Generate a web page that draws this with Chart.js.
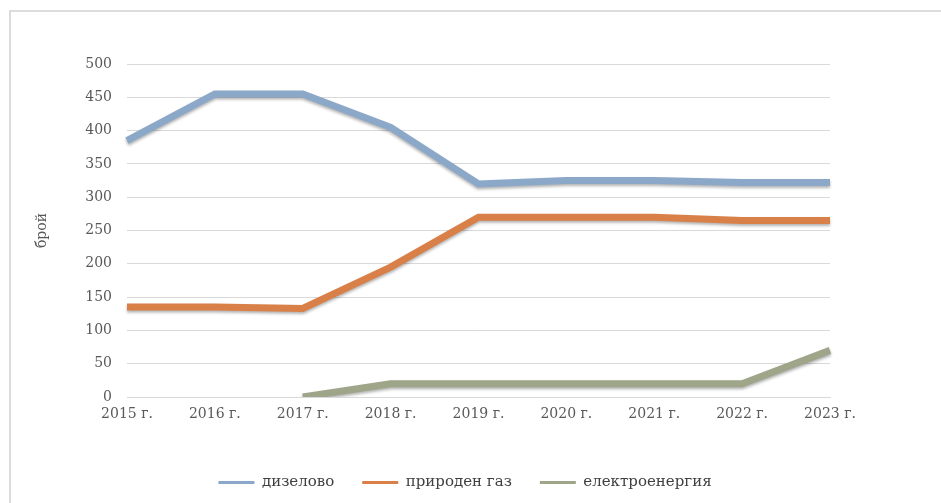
<!DOCTYPE html>
<html>
<head>
<meta charset="utf-8">
<script src="https://cdn.jsdelivr.net/npm/chart.js@4/dist/chart.umd.min.js"></script>
<style>
  html, body { margin: 0; padding: 0; background: #fff; overflow: hidden; }
  #wrap { position: relative; width: 941px; height: 503px; }
  #frame {
    position: absolute; left: 9px; top: 10px; width: 1000px; height: 491px;
    border: 2px solid #dcdcdc;
  }
  #myChart { position: absolute; left: 0; top: 0; }
</style>
</head>
<body>
<div id="wrap">
  <div id="frame"></div>
  <canvas id="myChart" width="941" height="503"></canvas>
</div>
<script>
const years = ["2015 г.", "2016 г.", "2017 г.", "2018 г.", "2019 г.", "2020 г.", "2021 г.", "2022 г.", "2023 г."];
const diesel = [385, 455, 455, 405, 320, 325, 325, 322, 322];
const naturalGas = [135, 135, 133, 195, 270, 270, 270, 265, 265];
const electric = [null, null, 0, 20, 20, 20, 20, 20, 70];

const seriesNames = ["дизелово", "природен газ", "електроенергия"];
const seriesColors = ["#8ca8c8", "#d98048", "#9ea589"];

const serif = "'DejaVu Serif', 'Liberation Serif', serif";

// soft drop shadow under the lines
const lineShadow = {
  id: "lineShadow",
  beforeDatasetsDraw(chart) {
    const ctx = chart.ctx;
    ctx.save();
    ctx.shadowColor = "rgba(0, 0, 0, 0.3)";
    ctx.shadowBlur = 3;
    ctx.shadowOffsetY = 2;
  },
  afterDatasetsDraw(chart) {
    chart.ctx.restore();
  },
};

function makeDataset(i, data) {
  return {
    label: seriesNames[i],
    data,
    borderColor: seriesColors[i],
    backgroundColor: seriesColors[i],
    borderWidth: 7,
    pointRadius: 0,
    tension: 0,
    fill: false,
    spanGaps: false,
    borderJoinStyle: "miter",
  };
}

new Chart(document.getElementById("myChart"), {
  type: "line",
  data: {
    labels: years,
    datasets: [
      makeDataset(0, diesel),
      makeDataset(1, naturalGas),
      makeDataset(2, electric),
    ],
  },
  options: {
    responsive: false,
    animation: false,
    layout: { padding: { left: 30, right: 41, top: 64, bottom: 3 } },
    plugins: {
      tooltip: { enabled: false },
      legend: {
        position: "bottom",
        labels: {
          boxWidth: 36,
          boxHeight: 3,
          padding: 28,
          color: "#404040",
          font: { family: serif, size: 15 },
          generateLabels(chart) {
            const items = Chart.defaults.plugins.legend.labels.generateLabels(chart);
            return items.map((item) => Object.assign(item, { lineWidth: 0 }));
          },
        },
      },
    },
    scales: {
      x: {
        offset: false,
        grid: { display: false, drawTicks: false },
        border: { display: true, color: "#d9d9d9", width: 1 },
        ticks: {
          color: "#595959",
          font: { family: serif, size: 14 },
          padding: 9,
          maxRotation: 0,
          autoSkip: false,
        },
        afterFit(scale) {
          scale.height = 50;
        },
      },
      y: {
        min: 0,
        max: 500,
        ticks: {
          stepSize: 50,
          color: "#595959",
          font: { family: serif, size: 14 },
          padding: 15,
        },
        grid: { color: "#d9d9d9", lineWidth: 1, drawTicks: false },
        border: { display: false },
        title: {
          display: true,
          text: "брой",
          color: "#595959",
          font: { family: serif, size: 14 },
          padding: 4,
        },
        afterFit(scale) {
          scale.width = 97;
        },
      },
      // empty right-hand gutter so the plot ends short of the legend's width
      gutter: {
        type: "linear",
        position: "right",
        ticks: { display: false },
        grid: { display: false, drawTicks: false },
        border: { display: false },
        afterFit(scale) {
          scale.width = 70;
        },
      },
    },
  },
  plugins: [lineShadow],
});
</script>
</body>
</html>
